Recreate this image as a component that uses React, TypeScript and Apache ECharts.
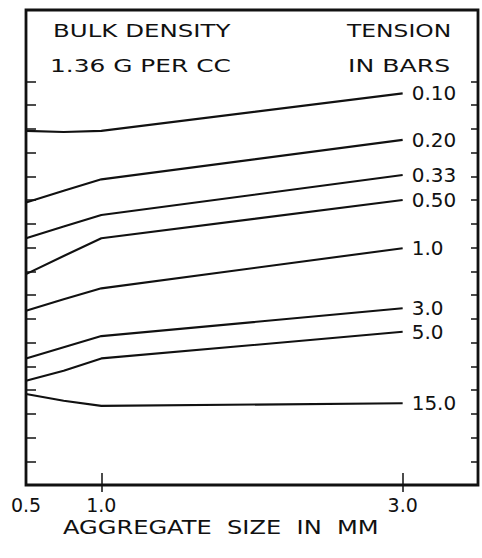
import React, { useEffect, useRef } from "react";
import * as echarts from "echarts";

const sizes = [0.5, 0.75, 1.0, 3.0];
const tensions = ["0.10", "0.20", "0.33", "0.50", "1.0", "3.0", "5.0", "15.0"];
const t010 = [14.91, 14.86, 14.91, 16.49];
const t020 = [11.89, 12.39, 12.87, 14.53];
const t033 = [10.39, 10.88, 11.37, 13.05];
const t050 = [8.88, 9.64, 10.39, 12.0];
const t100 = [7.34, 7.82, 8.28, 9.97];
const t300 = [5.33, 5.8, 6.27, 7.44];
const t500 = [4.39, 4.81, 5.33, 6.45];
const t1500 = [3.83, 3.55, 3.33, 3.44];
const seriesValues = [t010, t020, t033, t050, t100, t300, t500, t1500];
const xTickValues = [1, 3];
const xLabelValues = [0.5, 1, 3];
const yTickValues = [1, 2, 3, 4, 5, 6, 7, 8, 9, 10, 11, 12, 13, 14, 15, 16, 17];

const FONT = "DejaVu Sans";
const INK = "#111";

export default function App() {
  const ref = useRef<HTMLDivElement>(null);
  useEffect(() => {
    if (!ref.current) return;
    const chart = echarts.init(ref.current, undefined, { renderer: "svg" });
    const series = tensions.map((name, i) => ({
      name,
      type: "line",
      xAxisIndex: 0,
      yAxisIndex: 0,
      data: sizes.map((s, j) => [s, seriesValues[i][j]]),
      symbol: "none",
      lineStyle: { color: INK, width: 2.1 },
      endLabel: {
        show: true,
        formatter: "{a}",
        color: INK,
        fontFamily: FONT,
        fontSize: 20,
        distance: 9,
      },
    }));
    const textEl = (text: string, x: number, y: number, size: number, sx: number) => ({
      type: "text",
      x,
      y,
      scaleX: sx,
      style: {
        text,
        fill: INK,
        font: `${size}px "${FONT}"`,
        textAlign: "left",
        textVerticalAlign: "middle",
      },
    });
    chart.setOption({
      animation: false,
      backgroundColor: "#fff",
      grid: {
        left: 26,
        right: 4,
        top: 10,
        bottom: 73,
        show: true,
        borderColor: INK,
        borderWidth: 2.8,
        backgroundColor: "transparent",
      },
      xAxis: [
        {
          type: "value",
          position: "bottom",
          min: 0.5,
          max: 3.5,
          splitLine: { show: false },
          axisLine: { show: false },
          axisTick: {
            show: true,
            inside: true,
            length: 12,
            customValues: xTickValues,
            lineStyle: { color: INK, width: 1.5 },
          },
          axisLabel: {
            show: true,
            customValues: xLabelValues,
            formatter: (v: number) => v.toFixed(1),
            color: INK,
            fontFamily: FONT,
            fontSize: 19,
            margin: 10,
          },
        },
        {
          type: "value",
          position: "top",
          min: 0.5,
          max: 3.5,
          splitLine: { show: false },
          axisLine: { show: false },
          axisTick: {
            show: true,
            inside: true,
            length: 7,
            customValues: xTickValues,
            lineStyle: { color: INK, width: 1.5 },
          },
          axisLabel: { show: false },
        },
      ],
      yAxis: [
        {
          type: "value",
          position: "left",
          min: 0,
          max: 20,
          splitLine: { show: false },
          axisLine: { show: false },
          axisTick: {
            show: true,
            inside: true,
            length: 10,
            customValues: yTickValues,
            lineStyle: { color: INK, width: 1.5 },
          },
          axisLabel: { show: false },
        },
        {
          type: "value",
          position: "right",
          min: 0,
          max: 20,
          splitLine: { show: false },
          axisLine: { show: false },
          axisTick: {
            show: true,
            inside: true,
            length: 7,
            customValues: yTickValues,
            lineStyle: { color: INK, width: 1.5 },
          },
          axisLabel: { show: false },
        },
      ],
      series,
      graphic: [
        textEl("BULK DENSITY", 53, 31, 18, 1.36),
        textEl("1.36 G PER CC", 50, 66, 18, 1.38),
        textEl("TENSION", 347, 31, 18, 1.3),
        textEl("IN BARS", 348, 66, 18, 1.4),
        textEl("AGGREGATE  SIZE  IN  MM", 63, 527, 19, 1.27),
      ],
    });
    return () => chart.dispose();
  }, []);
  return (
    <div
      ref={ref}
      style={{ position: "fixed", left: 0, top: 0, width: 482, height: 558, background: "#fff" }}
    />
  );
}
